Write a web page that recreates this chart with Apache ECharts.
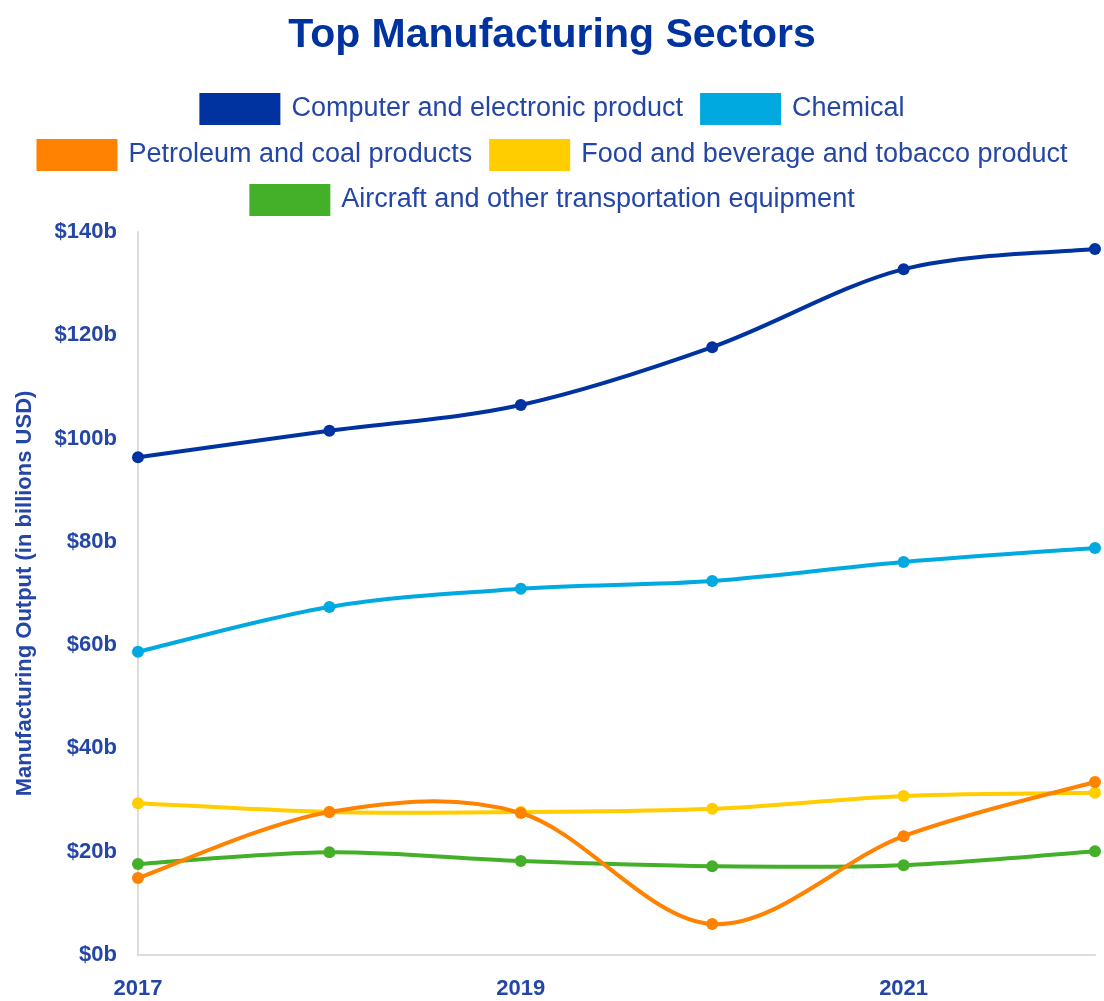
<!DOCTYPE html>
<html>
<head>
<meta charset="utf-8">
<script src="https://cdn.jsdelivr.net/npm/echarts@6/dist/echarts.min.js"></script>
<style>
  html, body { margin: 0; padding: 0; background: #ffffff; }
  #chart { width: 1104px; height: 1001px; }
</style>
</head>
<body>
<div id="chart"></div>
<script>
// Years along the horizontal axis
const years = ['2017', '2018', '2019', '2020', '2021', '2022'];

// Sector output, billions USD
const computerElectronic = [96.4, 101.5, 106.5, 117.7, 132.8, 136.7];
const chemical = [58.7, 67.4, 70.9, 72.4, 76.1, 78.8];
const petroleumCoal = [14.9, 27.7, 27.5, 6.0, 23.0, 33.5];
const foodBeverageTobacco = [29.4, 27.7, 27.7, 28.3, 30.8, 31.4];
const aircraftTransport = [17.6, 19.9, 18.2, 17.2, 17.4, 20.1];

const seriesNames = [
  'Computer and electronic product',
  'Chemical',
  'Petroleum and coal products',
  'Food and beverage and tobacco product',
  'Aircraft and other transportation equipment'
];
const seriesValues = [computerElectronic, chemical, petroleumCoal, foodBeverageTobacco, aircraftTransport];
const seriesColors = ['#0033a0', '#00a9e0', '#ff8200', '#ffcd00', '#44b02a'];

const textBlue = '#2446a6';
const fontFamily = 'Liberation Sans, Arial, sans-serif';

const chart = echarts.init(document.getElementById('chart'), null, { renderer: 'canvas' });

// One legend per row so each row is centred on its own
const legendRows = [[seriesNames[0], seriesNames[1]], [seriesNames[2], seriesNames[3]], [seriesNames[4]]];
const legendTops = [93, 139, 184];
const legends = legendRows.map((row, i) => ({
  data: row,
  top: legendTops[i],
  left: 'center',
  padding: 0,
  icon: 'rect',
  itemWidth: 81,
  itemHeight: 32,
  itemGap: 17,
  selectedMode: false,
  textStyle: {
    color: textBlue,
    fontSize: 27,
    fontFamily: fontFamily,
    padding: [0, 0, 0, 6]
  }
}));

// Each data item draws the cardinal-spline segment to the next point plus its own marker.
// Control points come from neighbouring points in pixel space (ends repeat the endpoint).
function renderSpline(params, api) {
  const vals = seriesValues[params.seriesIndex];
  const color = seriesColors[params.seriesIndex];
  const i = params.dataIndex;
  const n = vals.length;
  const pt = j => api.coord([Math.max(0, Math.min(n - 1, j)), vals[Math.max(0, Math.min(n - 1, j))]]);
  const p1 = pt(i);
  const children = [];
  if (i < n - 1) {
    const p0 = pt(i - 1);
    const p2 = pt(i + 1);
    const p3 = pt(i + 2);
    children.push({
      type: 'bezierCurve',
      shape: {
        x1: p1[0], y1: p1[1],
        x2: p2[0], y2: p2[1],
        cpx1: p1[0] + (p2[0] - p0[0]) / 6,
        cpy1: p1[1] + (p2[1] - p0[1]) / 6,
        cpx2: p2[0] - (p3[0] - p1[0]) / 6,
        cpy2: p2[1] - (p3[1] - p1[1]) / 6
      },
      style: { fill: null, stroke: color, lineWidth: 4, lineCap: 'round' }
    });
  }
  children.push({
    type: 'circle',
    shape: { cx: p1[0], cy: p1[1], r: 6 },
    style: { fill: color }
  });
  return { type: 'group', children: children };
}

chart.setOption({
  animation: false,
  backgroundColor: '#ffffff',
  title: {
    text: 'Top Manufacturing Sectors',
    left: 'center',
    top: 10,
    textStyle: {
      color: '#0033a0',
      fontSize: 41,
      fontWeight: 'bold',
      fontFamily: fontFamily
    }
  },
  legend: legends,
  grid: { left: 138, right: 9, top: 232, bottom: 46 },
  xAxis: {
    type: 'category',
    data: years,
    boundaryGap: false,
    axisLine: { show: true, lineStyle: { color: '#dddddd', width: 2 } },
    axisTick: { show: false },
    splitLine: { show: false },
    axisLabel: {
      interval: 1,
      margin: 23,
      color: textBlue,
      fontSize: 22,
      fontWeight: 'bold',
      fontFamily: fontFamily
    }
  },
  yAxis: {
    type: 'value',
    min: 0,
    max: 140,
    interval: 20,
    name: 'Manufacturing Output (in billions USD)',
    nameLocation: 'middle',
    nameGap: 102,
    nameTextStyle: {
      color: textBlue,
      fontSize: 22,
      fontWeight: 'bold',
      fontFamily: fontFamily
    },
    axisLine: { show: true, lineStyle: { color: '#dddddd', width: 2 } },
    axisTick: { show: false },
    splitLine: { show: false },
    axisLabel: {
      margin: 21,
      color: textBlue,
      fontSize: 22,
      fontWeight: 'bold',
      fontFamily: fontFamily,
      formatter: v => '$' + v + 'b'
    }
  },
  series: seriesNames.map((name, i) => ({
    name: name,
    type: 'custom',
    data: seriesValues[i].map((v, j) => [j, v]),
    encode: { x: 0, y: 1 },
    renderItem: renderSpline,
    itemStyle: { color: seriesColors[i] },
    clip: false,
    z: 10 - i
  }))
});
</script>
</body>
</html>
